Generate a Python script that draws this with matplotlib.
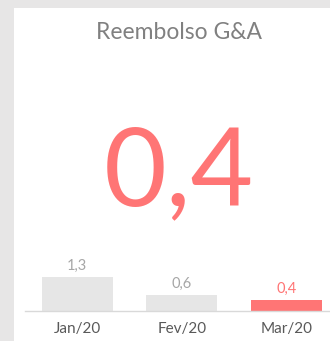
import matplotlib.pyplot as plt
from matplotlib.patches import Rectangle

# Dados do cartão
meses = ["Jan/20", "Fev/20", "Mar/20"]
valores = [1.3, 0.6, 0.4]
titulo = "Reembolso G&A"
valor_atual = valores[-1]

FUNDO = "#e7e6e6"
CINZA_BARRA = "#e6e6e6"
VERMELHO = "#ff7575"

W, H = 330, 341
plt.rcParams["font.family"] = ["Lato", "DejaVu Sans"]

fig = plt.figure(figsize=(W / 100, H / 100), dpi=100, facecolor=FUNDO)

# Cartão branco
fig.patches.append(
    Rectangle((14 / W, 0), 1, 1 - 8 / H, transform=fig.transFigure,
              facecolor="white", edgecolor="none", zorder=-10)
)


def fmt(v):
    return f"{v:.1f}".replace(".", ",")


fig.text(179 / W, 1 - 39 / H, titulo, ha="center", va="baseline",
         fontsize=16.5, color="#808080")
fig.text(179 / W, 1 - 205 / H, fmt(valor_atual), ha="center", va="baseline",
         fontsize=78, color=VERMELHO)

# Gráfico de barras
ax = fig.add_axes([25 / W, 30 / H, 304 / W, 79 / H])
ax.set_facecolor("none")
cores = [CINZA_BARRA] * (len(valores) - 1) + [VERMELHO]
x = range(len(meses))
ax.bar(x, valores, width=0.68, color=cores)
for i, v in enumerate(valores):
    cor_txt = VERMELHO if i == len(valores) - 1 else "#a6a6a6"
    ax.annotate(fmt(v), (i, v), xytext=(0, 3), textcoords="offset points",
                ha="center", va="bottom", fontsize=10.5, color=cor_txt)

ax.set_xlim(-0.5, 2.41)
ax.set_ylim(0, 3)
ax.set_xticks(list(x))
ax.set_xticklabels(meses, fontsize=11, color="#595959")
ax.tick_params(axis="x", length=0, pad=8)
ax.set_yticks([])
for lado in ["top", "right", "left"]:
    ax.spines[lado].set_visible(False)
ax.spines["bottom"].set_color("#d9d9d9")
ax.spines["bottom"].set_linewidth(1)

fig.savefig("out.png", dpi=100, facecolor=FUNDO)
